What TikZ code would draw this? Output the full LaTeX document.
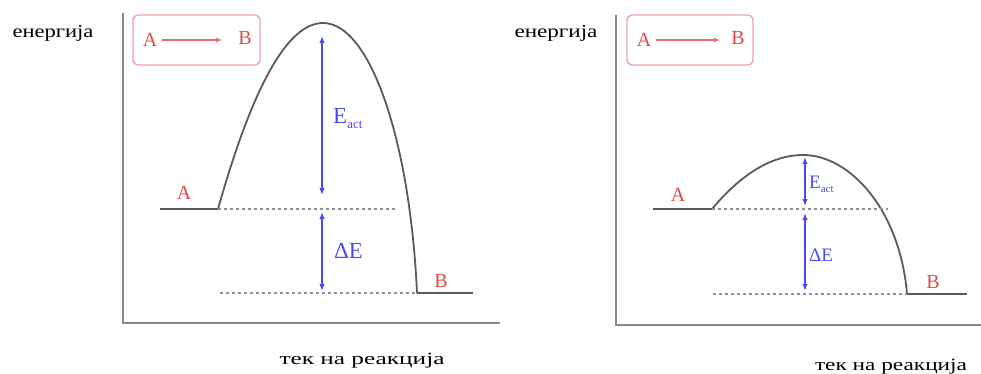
\documentclass[tikz,border=0pt]{standalone}
\usepackage{fontspec}
\setmainfont{Liberation Serif}
\usetikzlibrary{arrows.meta}
\definecolor{redlab}{HTML}{E04A4A}
\definecolor{boxred}{HTML}{F0A0A0}
\definecolor{bluelab}{HTML}{4A4AF0}
\definecolor{curvegray}{HTML}{5A5A5A}
\definecolor{axisgray}{HTML}{8A8A8A}
\definecolor{dotgray}{HTML}{8F8F8F}
\tikzset{
  axisline/.style={draw=axisgray, line width=2.4pt},
  curveline/.style={draw=curvegray, line width=1.8pt},
  levelline/.style={draw=curvegray, line width=2pt},
  dotline/.style={draw=dotgray, line width=1.6pt, dash pattern=on 3pt off 3pt},
  bluearrow/.style={draw=bluelab, line width=1.6pt, {Latex[length=7pt,width=5.5pt]}-{Latex[length=7pt,width=5.5pt]}},
  redletter/.style={text=redlab, font=\fontsize{20}{20}\selectfont, inner sep=0pt},
  bluelabel/.style={text=bluelab, inner sep=0pt, anchor=west},
  bigblue/.style={bluelabel, font=\fontsize{23}{23}\selectfont},
  smallblue/.style={bluelabel, font=\fontsize{19}{19}\selectfont},
  rxbox/.style={draw=boxred, line width=1.4pt, rounded corners=5pt},
  rxarrow/.style={draw=redlab!80, line width=1.4pt, -{Latex[length=6pt,width=5pt]}},
  axlabel/.style={inner sep=0pt, text=black}
}
\begin{document}
\begin{tikzpicture}[x=1pt,y=-1pt]
\useasboundingbox (0,0) rectangle (981,374);

% ================= LEFT PANEL =================
\node[axlabel] (eL) at (53,33) {\resizebox*{81pt}{16pt}{енергија}};
\node[axlabel] (tL) at (362,361) {\resizebox*{165pt}{15pt}{тек на реакција}};
\coordinate (oL) at (123,323);
\coordinate (yL) at (123,13);
\coordinate (xL) at (500,323);
\draw[axisline] (yL) -- (oL) -- (xL);

% reaction box
\node[rxbox, minimum width=127pt, minimum height=50pt] (boxL) at (196.5,40) {};
\node[redletter] (bAL) at (150,40) {A};
\node[redletter] (bBL) at (245,38) {B};
\draw[rxarrow] (bAL.east) ++(5,0) coordinate (raL1) -- (222,40) coordinate (raL2);

% levels
\coordinate (aL0) at (160,209);
\coordinate (aL1) at (218,209);
\coordinate (bL0) at (417,293);
\coordinate (bL1) at (473,293);
\coordinate (pL) at (323,23);
\draw[levelline] (aL0) -- (aL1);
\draw[levelline] (bL0) -- (bL1);
\draw[curveline] (aL1) .. controls (253,85) and (288,23) .. (pL)
                       .. controls (370,23) and (410,140) .. (bL0);
\coordinate (dL1) at (395,209);
\coordinate (dL2) at (220,293);
\draw[dotline] (aL1) -- (dL1);
\draw[dotline] (dL2) -- (bL0);

\node[redletter] (labAL) at (184,193) {A};
\node[redletter] (labBL) at (441,281) {B};

% energy arrows
\coordinate (eaL1) at (322,36);
\coordinate (eaL2) at (322,195);
\coordinate (deL1) at (322,212);
\coordinate (deL2) at (322,291);
\draw[bluearrow] (eaL1) -- (eaL2);
\draw[bluearrow] (deL1) -- (deL2);
\node[bigblue] (EactL) at (333,119) {E\raisebox{-5pt}{\fontsize{13}{13}\selectfont act}};
\node[bigblue] (dEL) at (334,251) {ΔE};

% ================= RIGHT PANEL =================
\node[axlabel] (eR) at (556,33) {\resizebox*{83pt}{16pt}{енергија}};
\node[axlabel] (tR) at (891,367) {\resizebox*{152pt}{15pt}{тек на реакција}};
\coordinate (oR) at (616,325);
\coordinate (yR) at (616,15);
\coordinate (xR) at (981,325);
\draw[axisline] (yR) -- (oR) -- (xR);

\node[rxbox, minimum width=126pt, minimum height=50pt] (boxR) at (690,40) {};
\node[redletter] (bAR) at (644,40) {A};
\node[redletter] (bBR) at (738,38) {B};
\draw[rxarrow] (bAR.east) ++(5,0) coordinate (raR1) -- (720,40) coordinate (raR2);

\coordinate (aR0) at (653,209);
\coordinate (aR1) at (712,209);
\coordinate (bR0) at (907,294);
\coordinate (bR1) at (967,294);
\coordinate (pR) at (803,155);
\draw[levelline] (aR0) -- (aR1);
\draw[levelline] (bR0) -- (bR1);
\draw[curveline] (aR1) .. controls (742,173) and (773,155) .. (pR)
                       .. controls (850,155) and (900,210) .. (bR0);
\coordinate (dR1) at (888,209);
\coordinate (dR2) at (713,294);
\draw[dotline] (aR1) -- (dR1);
\draw[dotline] (dR2) -- (bR0);

\node[redletter] (labAR) at (678,195) {A};
\node[redletter] (labBR) at (933,282) {B};

\coordinate (eaR1) at (805,157);
\coordinate (eaR2) at (805,206);
\coordinate (deR1) at (805,213);
\coordinate (deR2) at (805,291);
\draw[bluearrow] (eaR1) -- (eaR2);
\draw[bluearrow] (deR1) -- (deR2);
\node[smallblue] (EactR) at (809,184) {E\raisebox{-4pt}{\fontsize{11}{11}\selectfont act}};
\node[smallblue] (dER) at (809,255) {ΔE};
\end{tikzpicture}
\end{document}
